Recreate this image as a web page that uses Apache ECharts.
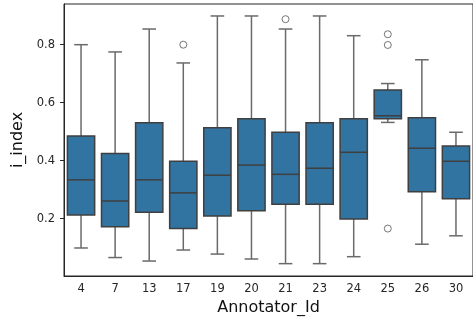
<!DOCTYPE html>
<html><head><meta charset="utf-8">
<script src="https://cdn.jsdelivr.net/npm/echarts@6/dist/echarts.min.js"></script>
<style>html,body{margin:0;padding:0;background:#fff}#c{width:473px;height:323px}</style>
</head><body><div id="c"></div>
<script>
var categories = ['4','7','13','17','19','20','21','23','24','25','26','30'];
var whiskerLow = [0.099,0.066,0.054,0.092,0.078,0.061,0.045,0.045,0.069,0.532,0.112,0.141];
var q1         = [0.213,0.172,0.222,0.166,0.209,0.227,0.250,0.250,0.199,0.545,0.293,0.269];
var median     = [0.334,0.261,0.334,0.289,0.350,0.385,0.353,0.374,0.429,0.555,0.443,0.398];
var q3         = [0.485,0.425,0.531,0.398,0.514,0.545,0.498,0.531,0.545,0.644,0.548,0.451];
var whiskerHigh= [0.800,0.775,0.854,0.737,0.899,0.899,0.854,0.899,0.831,0.666,0.748,0.498];
var outliers   = [['17',0.800],['21',0.888],['25',0.836],['25',0.799],['25',0.166]];
var yTicks = [0.2,0.4,0.6,0.8];

var boxData = categories.map(function(c,i){return [i,whiskerLow[i],q1[i],median[i],q3[i],whiskerHigh[i]];});
var outlierData = outliers.map(function(o){return [categories.indexOf(o[0]), o[1]];});

var boxColor = '#3274a1', edge = '#3f3f3f', whisk = '#6a6a6a', txt = '#262626';

function renderBox(params, api){
  var i = api.value(0);
  var bw = api.size([1,0])[0];
  var w = bw*0.8, cw = w*0.5;
  var pLow = api.coord([i, api.value(1)]);
  var pQ1 = api.coord([i, api.value(2)]);
  var pMed = api.coord([i, api.value(3)]);
  var pQ3 = api.coord([i, api.value(4)]);
  var pHigh = api.coord([i, api.value(5)]);
  var x = pQ1[0];
  var ls = {stroke: whisk, lineWidth: 1.5};
  return {type:'group', children:[
    {type:'line', shape:{x1:x,y1:pQ3[1],x2:x,y2:pHigh[1]}, style:ls},
    {type:'line', shape:{x1:x,y1:pQ1[1],x2:x,y2:pLow[1]}, style:ls},
    {type:'line', shape:{x1:x-cw/2,y1:pHigh[1],x2:x+cw/2,y2:pHigh[1]}, style:ls},
    {type:'line', shape:{x1:x-cw/2,y1:pLow[1],x2:x+cw/2,y2:pLow[1]}, style:ls},
    {type:'rect', shape:{x:x-w/2,y:pQ3[1],width:w,height:pQ1[1]-pQ3[1]}, style:{fill:boxColor, stroke:edge, lineWidth:1.5}},
    {type:'line', shape:{x1:x-w/2,y1:pMed[1],x2:x+w/2,y2:pMed[1]}, style:{stroke:edge, lineWidth:1.5}}
  ]};
}

var chart = echarts.init(document.getElementById('c'), null, {renderer:'canvas'});
chart.setOption({
  animation:false,
  backgroundColor:'#fff',
  grid:{left:64, top:4, right:-2, bottom:47, show:true, borderColor:'#262626', borderWidth:1, containLabel:false},
  xAxis:{type:'category', data:categories, boundaryGap:true,
    name:'Annotator_Id', nameLocation:'middle', nameGap:23,
    nameTextStyle:{fontFamily:'DejaVu Sans', fontSize:16, color:'#111'},
    axisLine:{lineStyle:{color:'#262626', width:1}},
    axisTick:{alignWithLabel:true, length:4, lineStyle:{color:'#262626'}},
    axisLabel:{fontFamily:'DejaVu Sans', fontSize:11.5, color:txt, margin:7},
    splitLine:{show:false}},
  yAxis:{type:'value', min:0.0024, max:0.9403,
    name:'i_index', nameLocation:'middle', nameGap:33, nameRotate:90,
    nameTextStyle:{fontFamily:'DejaVu Sans', fontSize:16, color:'#111'},
    axisLine:{show:true, lineStyle:{color:'#262626', width:1}},
    axisTick:{show:true, length:4, customValues:yTicks, lineStyle:{color:'#262626'}},
    axisLabel:{fontFamily:'DejaVu Sans', fontSize:11.5, color:txt, margin:9, customValues:yTicks,
      formatter:function(v){return v.toFixed(1);}},
    splitLine:{show:false}},
  series:[
    {type:'custom', renderItem:renderBox, data:boxData, encode:{x:0, y:[1,2,3,4,5]}},
    {type:'scatter', data:outlierData, symbol:'circle', symbolSize:7,
      itemStyle:{color:'#fff', borderColor:'#555', borderWidth:1}}
  ]
});
</script></body></html>
